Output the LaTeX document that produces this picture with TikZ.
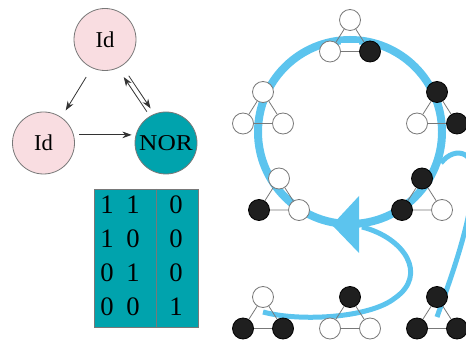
\documentclass[tikz,border=0pt]{standalone}
\usepackage{fontspec}
\setmainfont{Liberation Serif}
\usetikzlibrary{arrows.meta}
\definecolor{ringblue}{RGB}{92,196,238}
\definecolor{nodepink}{RGB}{249,221,225}
\definecolor{gateteal}{RGB}{0,163,173}
\definecolor{edgegrey}{RGB}{120,120,120}
\pgfdeclarelayer{under}
\pgfdeclarelayer{bonds}
\pgfsetlayers{under,bonds,main}

% one triangular plaquette: name, top x, top y, styles of top / left / right spins
\newcommand\plaq[6]{%
  \node[#4] (#1t) at (#2,#3) {};
  \node[#5] (#1l) at ({#2-20},{#3+31.5}) {};
  \node[#6] (#1r) at ({#2+20},{#3+31.5}) {};
  \begin{pgfonlayer}{bonds}
    \draw[bond] (#1t) -- (#1l) (#1t) -- (#1r) (#1l) -- (#1r);
  \end{pgfonlayer}
}

\begin{document}
\begin{tikzpicture}[x=0.75pt,y=-0.75pt,
  gate/.style={circle, draw=edgegrey, line width=0.6pt, minimum size=46.5pt,
    inner sep=0pt, font=\fontsize{17}{17}\selectfont},
  idgate/.style={gate, fill=nodepink},
  norgate/.style={gate, fill=gateteal},
  flow/.style={-{Stealth[length=7pt,width=5pt]}, line width=0.6pt, draw=black!80},
  site/.style={circle, line width=0.6pt, minimum size=15.75pt, inner sep=0pt},
  up/.style={site, draw=edgegrey, fill=white},
  dn/.style={site, draw=black, fill=black!88},
  bond/.style={draw=edgegrey, line width=0.6pt},
  ring/.style={draw=ringblue, line width=6pt},
  trail/.style={draw=ringblue, line width=3.75pt},
  cell/.style={inner sep=0pt, font=\fontsize{20}{20}\selectfont}]

\useasboundingbox (0,0) rectangle (466,341);

% ---- gate network ----
\node[idgate] (ida) at (105,39.5) {Id};
\node[idgate] (idb) at (43.5,143) {Id};
\node[norgate] (nor) at (166,143) {\scalebox{1.12}[1]{NOR}};

\draw[flow, shorten <=8pt, shorten >=6pt] (ida.245) -- (idb.55);
\draw[flow, shorten <=4pt, shorten >=3pt] (idb.15) -- (nor.165);
\draw[flow, shorten <=4pt, shorten >=8pt] (nor.121) -- (ida.-66);
\draw[flow, shorten <=9pt, shorten >=5pt] (ida.-57) -- (nor.112);

% ---- truth table ----
\coordinate (tnw) at (94,189);
\coordinate (tse) at (198,327);
\coordinate (dtop) at (156,189);
\coordinate (dbot) at (156,327);
\draw[edgegrey, line width=0.6pt, fill=gateteal] (tnw) rectangle (tse);
\draw[edgegrey, line width=0.6pt] (dtop) -- (dbot);
\foreach \a/\b/\c/\y [count=\i] in {1/1/0/205, 1/0/0/239, 0/1/0/273, 0/0/1/307} {
  \node[cell] (ra\i) at (107,\y) {\a};
  \node[cell] (rb\i) at (133,\y) {\b};
  \node[cell] (rc\i) at (176,\y) {\c};
}

% ---- spin plaquettes ----
\plaq{p1}{350}{20}{up}{up}{dn}
\plaq{p2}{263}{92}{up}{up}{up}
\plaq{p3}{437}{92}{dn}{up}{dn}
\plaq{p4}{279}{178.5}{up}{dn}{up}
\plaq{p5}{422}{178.5}{dn}{dn}{up}
\plaq{p6}{263}{297}{up}{dn}{dn}
\plaq{p7}{350}{297}{dn}{up}{up}
\plaq{p8}{437}{297}{dn}{dn}{dn}

\begin{pgfonlayer}{bonds}
  \draw[edgegrey, line width=0.6pt, double=white, double distance=6pt]
    ([yshift=3pt]p1l.east) -- ([yshift=3pt]p1r.west);
\end{pgfonlayer}

% ---- blue ring with its arrow and the two trails ----
\begin{pgfonlayer}{under}
  \coordinate (c) at (350,132);
  \draw[ring] (c) circle[radius=92];
  \coordinate (tip) at (332,225);
  \coordinate (bt) at (359,196);
  \coordinate (bb) at (359,253);
  \fill[ringblue] (tip) -- (bt) -- (bb) -- cycle;
  \coordinate (s1) at (362,227);
  \coordinate (e1) at (263,312);
  \draw[trail] (s1) .. controls (405,238) and (428,275) .. (395,298)
                    .. controls (370,318) and (300,322) .. (e1);
  \coordinate (s2) at (441,163);
  \coordinate (e2) at (437,317);
  \draw[trail] (s2) .. controls (455,145) and (480,150) .. (473,190)
                    .. controls (467,235) and (450,280) .. (e2);
\end{pgfonlayer}
\end{tikzpicture}
\end{document}
